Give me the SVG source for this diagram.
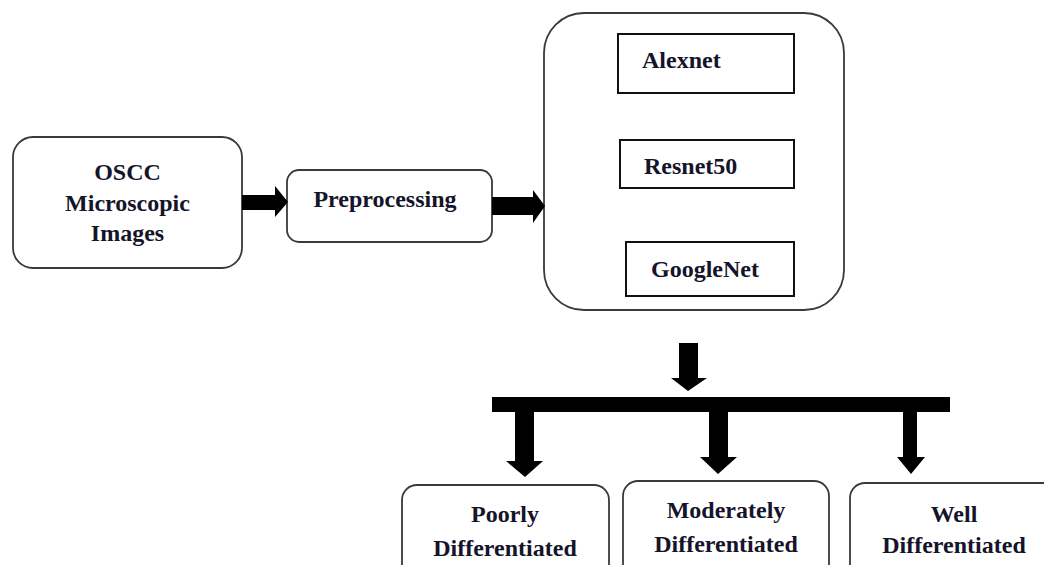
<svg xmlns="http://www.w3.org/2000/svg" width="1044" height="565" viewBox="0 0 1044 565">
<style>
.rbox{fill:#fff;stroke:#3a3a3a;stroke-width:1.8}
.box{fill:#fff;stroke:#111;stroke-width:2}
.t{font-family:"Liberation Serif","Times New Roman",serif;font-weight:bold;font-size:24px;fill:#14142a}
.c{text-anchor:middle}
.arr{fill:#000}
</style>
<rect width="1044" height="565" fill="#fff"/>
<g id="oscc">
<rect class="rbox" x="13" y="137" width="229" height="131" rx="20"/>
<text class="t c" x="127.5" y="180">OSCC</text>
<text class="t c" x="127.5" y="211">Microscopic</text>
<text class="t c" x="127.5" y="241">Images</text>
</g>
<g id="preprocessing">
<rect class="rbox" x="287" y="170" width="205" height="72" rx="12"/>
<text class="t c" x="385" y="207">Preprocessing</text>
</g>
<g id="models">
<rect class="rbox" x="544" y="13" width="300" height="297" rx="40"/>
<g id="alexnet">
<rect class="box" x="618" y="34" width="176" height="59"/>
<text class="t" x="642" y="68">Alexnet</text>
</g>
<g id="resnet50">
<rect class="box" x="620" y="140" width="174" height="48"/>
<text class="t" x="644" y="174">Resnet50</text>
</g>
<g id="googlenet">
<rect class="box" x="626" y="242" width="168" height="54"/>
<text class="t" x="651" y="277">GoogleNet</text>
</g>
</g>
<g id="poorly">
<rect class="rbox" x="402" y="485" width="207" height="110" rx="15"/>
<text class="t c" x="505" y="522">Poorly</text>
<text class="t c" x="505" y="556">Differentiated</text>
</g>
<g id="moderately">
<rect class="rbox" x="623" y="481" width="206" height="110" rx="15"/>
<text class="t c" x="726" y="518">Moderately</text>
<text class="t c" x="726" y="552">Differentiated</text>
</g>
<g id="well">
<rect class="rbox" x="850" y="483" width="210" height="110" rx="15"/>
<text class="t c" x="954" y="522">Well</text>
<text class="t c" x="954" y="553">Differentiated</text>
</g>
<g id="connectors">
<polygon class="arr" points="242,195 275,195 275,186 288,202 275,217 275,210 242,210"/>
<polygon class="arr" points="492,197 533,197 533,190 545,206 533,223 533,215 492,215"/>
<polygon class="arr" points="679,343 698,343 698,378 707,378 688,391 671,378 679,378"/>
<rect class="arr" x="492" y="397" width="458" height="15"/>
<polygon class="arr" points="515,412 534,412 534,461 543,461 525,477 506,461 515,461"/>
<polygon class="arr" points="709,412 728,412 728,457 737,457 718,474 700,457 709,457"/>
<polygon class="arr" points="903,412 917,412 917,457 925,457 911,474 897,457 903,457"/>
</g>
</svg>
